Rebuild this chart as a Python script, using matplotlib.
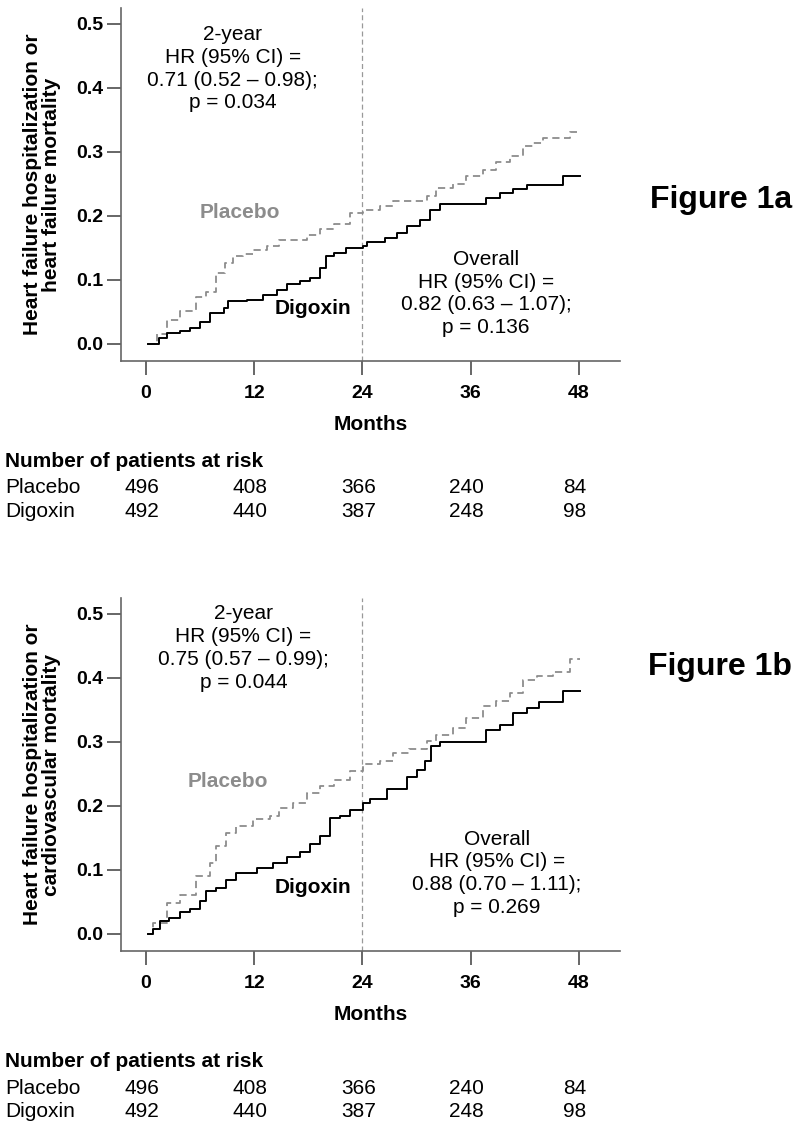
import matplotlib
matplotlib.use('Agg')
import matplotlib.pyplot as plt
import matplotlib.transforms as mtransforms

plt.rcParams['font.family'] = ['Liberation Sans', 'DejaVu Sans']

# risk table
risk_months = [0, 12, 24, 36, 48]
placebo_risk = [496, 408, 366, 240, 84]
digoxin_risk = [492, 440, 387, 248, 98]

# Figure 1a: heart failure hospitalization or heart failure mortality
dig_a_t = [0.25, 1.4, 2.3, 3.8, 4.9, 6.0, 7.1, 8.6, 9.1, 11.2, 13.0, 14.5, 15.6, 17.1, 18.2,
           19.3, 20.0, 20.8, 22.2, 24.1, 24.5, 26.5, 27.8, 28.9, 30.4, 31.5, 32.6, 35.9,
           37.7, 39.2, 40.7, 42.2, 45.9, 46.2, 48.1]
dig_a_y = [0.0, 0.009, 0.017, 0.020, 0.025, 0.035, 0.048, 0.056, 0.067, 0.069, 0.077, 0.085,
           0.093, 0.098, 0.103, 0.119, 0.137, 0.142, 0.150, 0.153, 0.160, 0.166, 0.173, 0.184,
           0.194, 0.210, 0.219, 0.219, 0.228, 0.236, 0.242, 0.249, 0.249, 0.263, 0.263]
pla_a_t = [0.25, 1.2, 2.3, 3.8, 5.6, 6.7, 7.8, 8.8, 9.7, 10.8, 11.9, 13.4, 14.8, 16.3, 17.8,
           19.3, 20.8, 21.5, 22.6, 24.1, 25.9, 27.4, 29.2, 31.1, 32.2, 34.0, 35.5, 37.4, 38.8,
           40.3, 41.8, 42.9, 44.0, 46.6, 47.0, 48.1]
pla_a_y = [0.0, 0.015, 0.038, 0.051, 0.074, 0.082, 0.111, 0.127, 0.137, 0.140, 0.147, 0.153,
           0.163, 0.163, 0.171, 0.179, 0.188, 0.188, 0.205, 0.210, 0.215, 0.223, 0.224, 0.231,
           0.244, 0.250, 0.262, 0.272, 0.284, 0.293, 0.309, 0.314, 0.322, 0.322, 0.331, 0.331]

# Figure 1b: heart failure hospitalization or cardiovascular mortality
dig_b_t = [0.25, 0.8, 1.5, 2.6, 3.8, 4.9, 6.0, 6.7, 7.8, 8.9, 10.0, 11.2, 12.3, 14.1, 15.6,
           17.1, 18.2, 19.3, 20.4, 21.5, 22.6, 24.1, 24.8, 26.3, 26.7, 27.8, 28.9, 30.0, 30.9,
           31.6, 32.6, 35.9, 37.7, 39.2, 40.7, 42.2, 43.6, 45.9, 46.2, 48.1]
dig_b_y = [0.0, 0.007, 0.020, 0.025, 0.035, 0.039, 0.051, 0.067, 0.072, 0.085, 0.095, 0.095,
           0.103, 0.111, 0.121, 0.128, 0.140, 0.153, 0.181, 0.184, 0.194, 0.205, 0.211, 0.211,
           0.227, 0.227, 0.246, 0.257, 0.270, 0.293, 0.300, 0.300, 0.319, 0.327, 0.345, 0.353,
           0.362, 0.362, 0.379, 0.379]
pla_b_t = [0.25, 0.8, 2.3, 3.8, 5.6, 7.1, 7.8, 8.9, 10.0, 11.9, 13.7, 14.8, 16.3, 17.8, 19.3,
           20.8, 22.6, 24.1, 25.9, 27.4, 29.2, 31.1, 32.2, 34.0, 35.5, 37.4, 38.8, 40.3, 41.8,
           43.3, 45.1, 46.2, 47.0, 48.1]
pla_b_y = [0.0, 0.017, 0.048, 0.061, 0.090, 0.111, 0.137, 0.158, 0.168, 0.179, 0.184, 0.197,
           0.205, 0.220, 0.231, 0.241, 0.254, 0.265, 0.270, 0.283, 0.289, 0.301, 0.311, 0.322,
           0.337, 0.356, 0.364, 0.377, 0.397, 0.403, 0.410, 0.410, 0.430, 0.430]

panels = [
    dict(dig=(dig_a_t, dig_a_y), pla=(pla_a_t, pla_a_y),
         ylabel='Heart failure hospitalization or\nheart failure mortality',
         two_year='2-year\nHR (95% CI) =\n0.71 (0.52 \u2013 0.98);\np = 0.034',
         overall='Overall\nHR (95% CI) =\n0.82 (0.63 \u2013 1.07);\np = 0.136',
         name='Figure 1a',
         pos=dict(two=(9.6, 0.43), pla=(10.4, 0.206), dig=(18.5, 0.056), ovr=(37.7, 0.079)),
         top=8, fig_label_y=208, table_y=[467, 493, 517]),
    dict(dig=(dig_b_t, dig_b_y), pla=(pla_b_t, pla_b_y),
         ylabel='Heart failure hospitalization or\ncardiovascular mortality',
         two_year='2-year\nHR (95% CI) =\n0.75 (0.57 \u2013 0.99);\np = 0.044',
         overall='Overall\nHR (95% CI) =\n0.88 (0.70 \u2013 1.11);\np = 0.269',
         name='Figure 1b',
         pos=dict(two=(10.8, 0.447), pla=(9.1, 0.238), dig=(18.5, 0.072), ovr=(38.9, 0.095)),
         top=598, fig_label_y=675, table_y=[1067, 1094, 1117]),
]

W, H = 800, 1127
fig = plt.figure(figsize=(W / 100, H / 100), dpi=100)
spine_col = '#666666'

for p in panels:
    ax = fig.add_axes([121 / W, 1 - (p['top'] + 353) / H, 499 / W, 353 / H])
    ax.set_xlim(-2.77, 52.55)
    ax.set_ylim(-0.0266, 0.525)
    for s in ['top', 'right']:
        ax.spines[s].set_visible(False)
    for s in ['left', 'bottom']:
        ax.spines[s].set_color(spine_col)
        ax.spines[s].set_linewidth(1.2)
    ax.tick_params(direction='out', length=10, width=1.4, color=spine_col, labelsize=14)
    ax.tick_params(axis='x', pad=7)
    ax.tick_params(axis='y', pad=3)
    ax.set_xticks(risk_months)
    ax.set_yticks([0.0, 0.1, 0.2, 0.3, 0.4, 0.5])
    ax.set_yticklabels(['%.1f' % v for v in ax.get_yticks()])
    for lab in ax.get_xticklabels() + ax.get_yticklabels():
        lab.set_fontweight('bold')

    ax.axvline(24, color='#999999', lw=0.9, dashes=(4, 2.5))
    ax.step(*p['pla'], where='post', color='#8c8c8c', lw=1.3, dashes=(4, 2.5))
    ax.step(*p['dig'], where='post', color='black', lw=1.4)

    ax.set_xlabel('Months', fontsize=15, fontweight='bold', labelpad=10)
    ax.set_ylabel(p['ylabel'], fontsize=15, fontweight='bold', va='center', linespacing=1.0)
    ax.yaxis.set_label_coords((42.5 - 121) / 499, 0.5)

    ax.text(*p['pos']['two'], p['two_year'], ha='center', va='center', fontsize=15, linespacing=1.25)
    ax.text(*p['pos']['ovr'], p['overall'], ha='center', va='center', fontsize=15, linespacing=1.25)
    ax.text(*p['pos']['pla'], 'Placebo', ha='center', va='center', fontsize=15,
            fontweight='bold', color='#8c8c8c')
    ax.text(*p['pos']['dig'], 'Digoxin', ha='center', va='center', fontsize=15,
            fontweight='bold', color='black')

    fig.text(792 / W, 1 - p['fig_label_y'] / H, p['name'], ha='right', va='baseline',
             fontsize=23, fontweight='bold')

    # number at risk table
    ty = [1 - y / H for y in p['table_y']]
    fig.text(5 / W, ty[0], 'Number of patients at risk', fontsize=15, fontweight='bold', va='baseline')
    fig.text(5 / W, ty[1], 'Placebo', fontsize=15, va='baseline')
    fig.text(5 / W, ty[2], 'Digoxin', fontsize=15, va='baseline')
    trans = mtransforms.blended_transform_factory(ax.transData, fig.transFigure)
    for m, np_, nd in zip(risk_months, placebo_risk, digoxin_risk):
        ax.text(m - 0.45, ty[1], str(np_), transform=trans, ha='center', va='baseline', fontsize=15)
        ax.text(m - 0.45, ty[2], str(nd), transform=trans, ha='center', va='baseline', fontsize=15)

fig.savefig('out.png', dpi=100)
